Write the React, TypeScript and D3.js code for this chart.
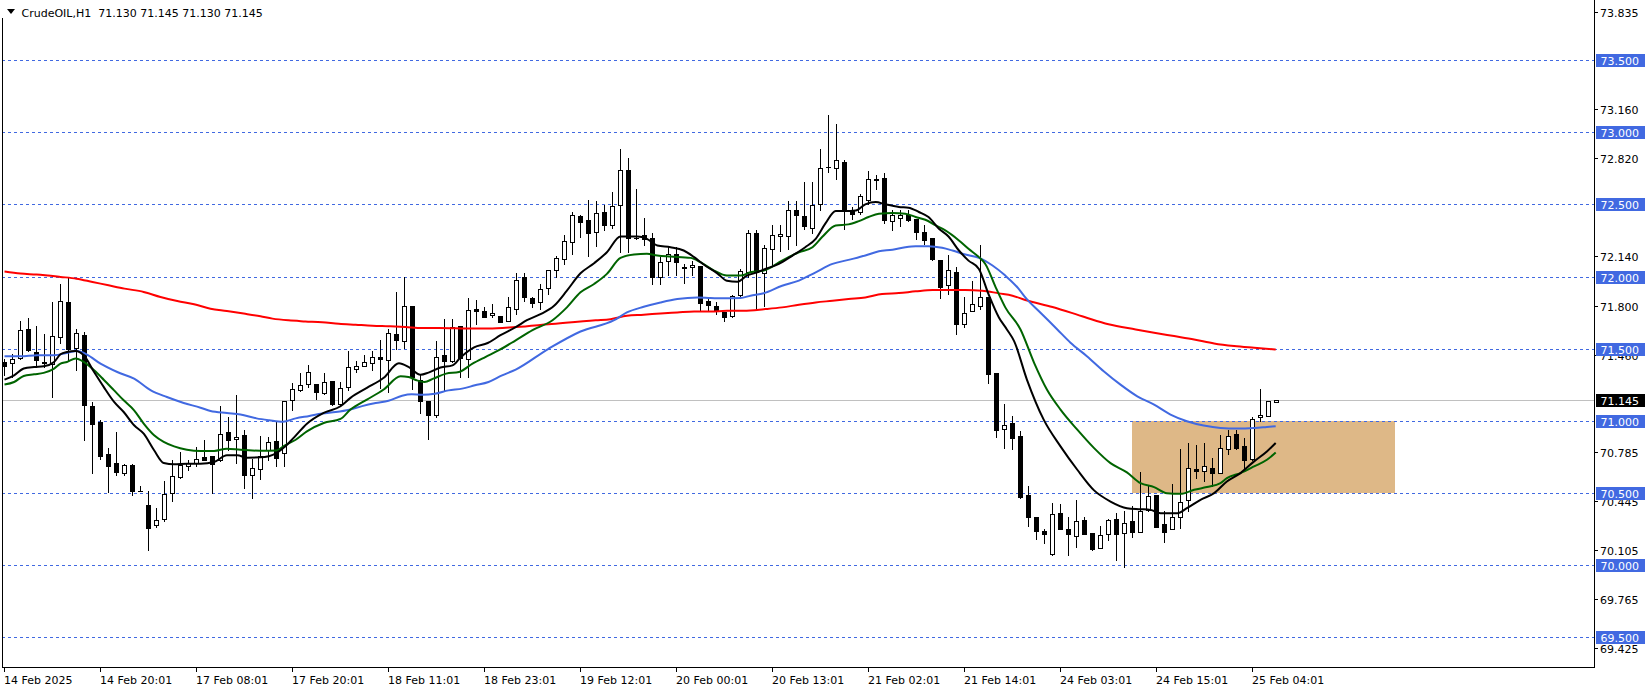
import React from 'react';
import * as d3 from 'd3';

const W = 1651;
const H = 691;

const headerText = 'CrudeOIL,H1  71.130 71.145 71.130 71.145';

const opens = [
  71.41, 71.40, 71.439, 71.64, 71.478, 71.41, 71.397, 71.582, 71.822, 71.506,
  71.598, 71.102, 70.991, 70.774, 70.711, 70.642, 70.697, 70.515, 70.416, 70.28,
  70.323, 70.503, 70.612, 70.69, 70.71, 70.749, 70.76, 70.727, 70.921, 70.878,
  70.905, 70.627, 70.666, 70.796, 70.863, 70.778, 71.148, 71.218, 71.259, 71.259,
  71.195, 71.28, 71.118, 71.236, 71.36, 71.383, 71.402, 71.441, 71.425, 71.605,
  71.554, 71.794, 71.282, 71.136, 71.039, 71.455, 71.416, 71.66, 71.432, 71.778,
  71.762, 71.732, 71.73, 71.693, 71.775, 71.995, 71.852, 71.821, 71.921, 72.046,
  72.123, 72.239, 72.422, 72.394, 72.309, 72.45, 72.36, 72.494, 72.742, 72.27,
  72.285, 72.269, 71.995, 72.111, 72.158, 72.07, 72.065, 72.077, 71.833, 71.798,
  71.752, 71.729, 71.875, 72.03, 72.302, 72.023, 72.193, 72.283, 72.281, 72.459,
  72.418, 72.339, 72.501, 72.76, 72.756, 72.793, 72.459, 72.448, 72.529, 72.673,
  72.68, 72.383, 72.408, 72.425, 72.401, 72.309, 72.267, 72.118, 71.942, 72.035,
  71.67, 71.759, 71.794, 71.856, 71.333, 70.944, 70.986, 70.898, 70.488, 70.333,
  70.238, 70.076, 70.361, 70.25, 70.204, 70.313, 70.222, 70.118, 70.215, 70.32,
  70.222, 70.306, 70.234, 70.384, 70.488, 70.285, 70.25, 70.333, 70.449, 70.667,
  70.65, 70.674, 70.639, 70.806, 70.912, 70.824, 70.736, 71.028, 71.037, 71.13,
];
const highs = [
  71.43, 71.467, 71.69, 71.716, 71.656, 71.60, 71.822, 71.947, 71.993, 71.64,
  71.617, 71.132, 71.005, 70.813, 70.921, 70.70, 70.70, 70.55, 70.512, 70.40,
  70.582, 70.727, 70.785, 70.727, 70.82, 70.866, 70.76, 71.102, 71.028, 71.178,
  70.94, 70.737, 70.893, 70.889, 71.0, 71.141, 71.264, 71.334, 71.39, 71.259,
  71.334, 71.28, 71.27, 71.485, 71.413, 71.457, 71.485, 71.563, 71.635, 71.891,
  72.0, 71.80, 71.328, 71.136, 71.554, 71.707, 71.707, 71.66, 71.855, 71.84,
  71.79, 71.813, 71.73, 71.86, 72.023, 72.023, 71.856, 71.949, 72.046, 72.146,
  72.285, 72.448, 72.43, 72.534, 72.522, 72.494, 72.585, 72.884, 72.819, 72.606,
  72.408, 72.304, 72.139, 72.204, 72.204, 72.088, 72.111, 72.077, 71.856, 71.821,
  71.752, 71.875, 72.053, 72.32, 72.32, 72.216, 72.355, 72.355, 72.522, 72.522,
  72.654, 72.654, 72.884, 73.121, 73.058, 72.807, 72.483, 72.575, 72.731, 72.703,
  72.719, 72.459, 72.459, 72.459, 72.401, 72.355, 72.267, 72.118, 72.151, 72.065,
  71.861, 71.972, 72.216, 71.856, 71.333, 71.12, 71.032, 70.928, 70.546, 70.333,
  70.25, 70.435, 70.426, 70.333, 70.454, 70.338, 70.222, 70.269, 70.32, 70.361,
  70.377, 70.414, 70.646, 70.546, 70.488, 70.373, 70.563, 70.808, 70.847, 70.836,
  70.847, 70.743, 70.90, 70.94, 70.94, 70.882, 71.028, 71.222, 71.141, 71.145,
];
const lows = [
  71.32, 71.305, 71.432, 71.485, 71.374, 71.374, 71.166, 71.54, 71.42, 71.351,
  70.871, 70.642, 70.739, 70.508, 70.628, 70.624, 70.485, 70.512, 70.109, 70.266,
  70.307, 70.446, 70.607, 70.66, 70.69, 70.727, 70.501, 70.722, 70.801, 70.709,
  70.536, 70.469, 70.597, 70.731, 70.685, 70.69, 71.079, 71.206, 71.236, 71.153,
  71.19, 71.11, 71.108, 71.212, 71.34, 71.381, 71.351, 71.23, 71.2, 71.501,
  71.506, 71.224, 71.055, 70.878, 71.028, 71.212, 71.41, 71.305, 71.305, 71.674,
  71.72, 71.72, 71.686, 71.69, 71.74, 71.833, 71.787, 71.775, 71.88, 71.995,
  72.088, 72.158, 72.278, 72.146, 72.209, 72.32, 72.339, 72.169, 72.169, 72.258,
  72.216, 71.949, 71.949, 72.014, 72.014, 71.954, 72.014, 71.763, 71.763, 71.74,
  71.694, 71.717, 71.868, 71.995, 71.775, 71.798, 72.077, 72.176, 72.193, 72.216,
  72.332, 72.302, 72.464, 72.726, 72.677, 72.332, 72.401, 72.436, 72.506, 72.61,
  72.371, 72.32, 72.348, 72.385, 72.262, 72.223, 72.118, 71.852, 71.879, 71.606,
  71.654, 71.759, 71.775, 71.264, 70.889, 70.81, 70.806, 70.465, 70.269, 70.181,
  70.157, 70.069, 70.25, 70.069, 70.125, 70.215, 70.106, 70.118, 70.176, 70.037,
  69.991, 70.194, 70.234, 70.373, 70.264, 70.164, 70.25, 70.257, 70.373, 70.604,
  70.581, 70.546, 70.639, 70.773, 70.808, 70.674, 70.727, 70.998, 71.037, 71.13,
];
const closes = [
  71.38, 71.432, 71.628, 71.494, 71.42, 71.40, 71.591, 71.829, 71.499, 71.612,
  71.113, 70.982, 70.758, 70.688, 70.647, 70.697, 70.515, 70.513, 70.261, 70.316,
  70.492, 70.619, 70.697, 70.71, 70.739, 70.73, 70.704, 70.912, 70.871, 70.89,
  70.627, 70.673, 70.754, 70.852, 70.743, 71.138, 71.222, 71.252, 71.338, 71.2,
  71.269, 71.12, 71.229, 71.375, 71.383, 71.411, 71.441, 71.432, 71.612, 71.563,
  71.799, 71.305, 71.136, 71.039, 71.443, 71.416, 71.651, 71.439, 71.771, 71.764,
  71.72, 71.748, 71.686, 71.79, 71.977, 71.856, 71.814, 71.914, 72.046, 72.13,
  72.246, 72.429, 72.378, 72.302, 72.441, 72.36, 72.487, 72.738, 72.269, 72.265,
  72.258, 72.0, 72.1, 72.158, 72.1, 72.06, 72.083, 71.814, 71.805, 71.763,
  71.717, 71.868, 72.042, 72.302, 72.03, 72.197, 72.285, 72.297, 72.464, 72.425,
  72.348, 72.499, 72.756, 72.763, 72.807, 72.459, 72.436, 72.559, 72.673, 72.668,
  72.394, 72.425, 72.425, 72.39, 72.309, 72.251, 72.123, 71.926, 72.046, 71.675,
  71.747, 71.81, 71.856, 71.322, 70.94, 70.97, 70.882, 70.47, 70.338, 70.241,
  70.215, 70.354, 70.25, 70.215, 70.306, 70.215, 70.113, 70.208, 70.313, 70.215,
  70.292, 70.234, 70.377, 70.481, 70.268, 70.234, 70.338, 70.442, 70.674, 70.65,
  70.69, 70.639, 70.813, 70.894, 70.813, 70.727, 71.014, 71.044, 71.141, 71.145,
];

// moving averages: [bar index, price]
const maRed: [number, number][] = [
  [0, 72.035], [2, 72.021], [4, 72.014], [7, 71.998], [9, 71.986], [11, 71.963], [13, 71.94], [15, 71.917],
  [17.4, 71.894], [19.5, 71.859], [21.6, 71.831], [23.7, 71.808], [25.75, 71.778], [27.8, 71.762], [29.9, 71.744],
  [32, 71.725], [33.5, 71.709], [35.5, 71.697], [37.6, 71.69], [39.7, 71.684], [41.8, 71.674], [43.9, 71.667],
  [46, 71.66], [48, 71.656], [50.1, 71.651], [52.2, 71.644], [54.3, 71.644], [56.4, 71.642], [58.5, 71.64],
  [60.5, 71.64], [63.9, 71.651], [68, 71.67], [73.9, 71.698], [75.75, 71.705], [77.8, 71.729], [79.9, 71.736],
  [82, 71.745], [84.1, 71.752], [86.2, 71.759], [88.25, 71.759], [90.3, 71.763], [92.4, 71.763], [95.1, 71.775],
  [97.2, 71.787], [99.3, 71.805], [101.4, 71.821], [103.5, 71.833], [105.5, 71.845], [107.6, 71.856],
  [109.7, 71.879], [111.8, 71.886], [113.9, 71.898], [116, 71.907], [118, 71.907], [120.1, 71.907],
  [122.2, 71.903], [124.3, 71.884], [126, 71.868], [127.6, 71.838], [131, 71.79], [135, 71.72], [138, 71.67],
  [141.4, 71.634], [143.7, 71.611], [146.2, 71.588], [148.7, 71.565], [151.2, 71.537], [153.7, 71.519],
  [156.2, 71.507], [158.9, 71.495],
];
const maBlue: [number, number][] = [
  [0, 71.448], [2, 71.448], [4.1, 71.455], [6.2, 71.455], [7.8, 71.471], [9.1, 71.485], [10.3, 71.46],
  [12, 71.397], [14.1, 71.339], [16.2, 71.293], [18.3, 71.212], [20.3, 71.166], [22.4, 71.125], [24.5, 71.092],
  [25.75, 71.069], [27.8, 71.055], [29.5, 71.045], [31.5, 71.018], [33.1, 71.005], [34.8, 70.995],
  [36.4, 71.018], [38.1, 71.035], [39.7, 71.052], [41.4, 71.062], [43.1, 71.078], [44.7, 71.103],
  [46.4, 71.124], [48, 71.14], [49.7, 71.175], [50.9, 71.185], [52.2, 71.182], [53.8, 71.189], [55.5, 71.212],
  [57.2, 71.224], [58.8, 71.247], [60.5, 71.27], [62.2, 71.316], [63.9, 71.356], [68, 71.5], [72, 71.62],
  [76.2, 71.698], [77.8, 71.752], [79.9, 71.791], [82, 71.821], [84.1, 71.845], [86.6, 71.856], [88.25, 71.852],
  [89.9, 71.85], [92, 71.852], [93.25, 71.868], [94.9, 71.885], [97.2, 71.937], [99.3, 71.972], [101.4, 72.03],
  [103.5, 72.088], [105.5, 72.116], [107.6, 72.146], [109.3, 72.176], [111, 72.186], [112.6, 72.204],
  [113.9, 72.211], [115.5, 72.211], [117.2, 72.2], [118.5, 72.181], [120.1, 72.153], [121.8, 72.13],
  [123.5, 72.077], [125.1, 72.007], [126.8, 71.914], [127.6, 71.856], [129.5, 71.75], [131.6, 71.634],
  [133.25, 71.542], [135.3, 71.449], [137.4, 71.345], [139.5, 71.252], [141.6, 71.171], [143.7, 71.113],
  [145.75, 71.044], [147.8, 70.998], [149.9, 70.968], [152, 70.951], [154.1, 70.947], [156.2, 70.951],
  [157.8, 70.958], [158.9, 70.963],
];
const maGreen: [number, number][] = [
  [0, 71.252], [1.2, 71.27], [2.4, 71.312], [3.7, 71.323], [4.9, 71.333], [6.2, 71.363], [7, 71.397],
  [7.8, 71.409], [8.9, 71.432], [9.9, 71.409], [11.2, 71.351], [12.4, 71.286], [13.7, 71.212], [14.9, 71.143],
  [16.2, 71.074], [17.4, 70.982], [18.7, 70.901], [19.9, 70.855], [21.2, 70.824], [22.8, 70.801],
  [24.5, 70.792], [26.2, 70.792], [27.8, 70.808], [29.5, 70.8], [32, 70.794], [34, 70.796], [35, 70.829],
  [36.4, 70.87], [37.8, 70.928], [39.9, 70.986], [42, 71.014], [43.25, 71.079], [45.3, 71.148], [47.4, 71.218],
  [49.5, 71.31], [50.5, 71.305], [51.5, 71.282], [52.5, 71.27], [53.6, 71.293], [55.2, 71.328], [56.8, 71.339],
  [58.5, 71.397], [60.1, 71.443], [61.8, 71.49], [63.9, 71.559], [66, 71.63], [68.5, 71.698], [70.3, 71.787],
  [72, 71.891], [73.7, 71.949], [75.3, 72.019], [77, 72.13], [78.7, 72.153], [80.3, 72.158], [81.6, 72.146],
  [83.25, 72.139], [85.75, 72.13], [87, 72.1], [88.7, 72.042], [90.3, 72.007], [92, 72.007], [93.25, 72.03],
  [94.9, 72.042], [97.2, 72.111], [99.3, 72.169], [101, 72.204], [102.2, 72.274], [103.9, 72.355],
  [105.5, 72.362], [106.8, 72.385], [108, 72.413], [109.3, 72.436], [111, 72.441], [112.6, 72.436],
  [113.9, 72.413], [115.1, 72.394], [116.4, 72.355], [117.6, 72.32], [119.3, 72.251], [120.5, 72.193],
  [121.8, 72.135], [122.6, 72.088], [123.9, 71.926], [125.1, 71.787], [127, 71.634], [128.7, 71.403],
  [130.3, 71.218], [132, 71.079], [134.1, 70.94], [136.2, 70.812], [138.25, 70.708], [140.3, 70.644],
  [142, 70.569], [143.7, 70.542], [145.3, 70.5], [147, 70.495], [148.7, 70.523], [150.3, 70.542],
  [152, 70.569], [152.8, 70.604], [154.5, 70.639], [156.2, 70.685], [157.8, 70.731], [158.9, 70.782],
];
const maBlack: [number, number][] = [
  [0, 71.286], [1.2, 71.316], [2.4, 71.363], [3.7, 71.374], [4.9, 71.379], [6.2, 71.409], [7, 71.462],
  [7.8, 71.478], [8.9, 71.485], [9.9, 71.455], [11.2, 71.339], [12.4, 71.236], [13.7, 71.132], [14.9, 71.062],
  [16.2, 70.97], [17.4, 70.912], [18.7, 70.797], [19.9, 70.709], [21.2, 70.7], [22.8, 70.704], [24.5, 70.704],
  [26.2, 70.716], [27.8, 70.762], [29.1, 70.762], [30.3, 70.746], [32, 70.748], [34, 70.778], [35, 70.819],
  [36.2, 70.886], [37.8, 70.981], [39.9, 71.056], [42, 71.102], [43.25, 71.16], [45.3, 71.229], [47.4, 71.299],
  [49.3, 71.4], [50.5, 71.375], [52, 71.32], [53, 71.335], [54.5, 71.37], [56, 71.385], [57, 71.44],
  [58.7, 71.51], [60.4, 71.54], [62, 71.594], [63.9, 71.65], [65.3, 71.698], [67, 71.74], [68.7, 71.798],
  [70.3, 71.903], [72, 72.023], [73.7, 72.093], [75.3, 72.169], [77, 72.278], [79.1, 72.278], [80.3, 72.262],
  [81.6, 72.216], [83.25, 72.204], [84.9, 72.181], [86.2, 72.135], [87.4, 72.084], [89.1, 72.023],
  [90.3, 71.972], [91.6, 71.965], [92.8, 72.007], [94.1, 72.03], [95.1, 72.053], [96.8, 72.088],
  [98.5, 72.146], [100.1, 72.204], [101.4, 72.262], [102.6, 72.367], [103.9, 72.455], [105.1, 72.455],
  [106.4, 72.459], [107.6, 72.501], [108.9, 72.517], [110.1, 72.501], [111.8, 72.483], [113, 72.478],
  [114.3, 72.448], [115.5, 72.413], [116.8, 72.332], [118, 72.278], [119.3, 72.181], [120.5, 72.111],
  [121.8, 72.053], [123, 71.879], [124.3, 71.717], [125.3, 71.634], [126.2, 71.553], [127.8, 71.287],
  [129.9, 71.009], [132, 70.824], [134.1, 70.662], [136.2, 70.519], [138.25, 70.442], [140.3, 70.396],
  [142, 70.389], [143.25, 70.384], [144.5, 70.361], [146.6, 70.361], [147.8, 70.396], [149.5, 70.454],
  [151.2, 70.5], [152.8, 70.581], [154.5, 70.639], [156.2, 70.72], [157.8, 70.789], [158.9, 70.847],
];

const timeLabels = [
  '14 Feb 2025', '14 Feb 20:01', '17 Feb 08:01', '17 Feb 20:01', '18 Feb 11:01', '18 Feb 23:01',
  '19 Feb 12:01', '20 Feb 00:01', '20 Feb 13:01', '21 Feb 02:01', '21 Feb 14:01', '24 Feb 03:01',
  '24 Feb 15:01', '25 Feb 04:01',
];
const timeLabelBars = [0, 12, 24, 36, 48, 60, 72, 84, 96, 108, 120, 132, 144, 156];

const priceTicks = [73.835, 73.16, 72.82, 72.14, 71.8, 71.46, 70.785, 70.445, 70.105, 69.765, 69.425];
const priceTickLabels = ['73.835', '73.160', '72.820', '72.140', '71.800', '71.460', '70.785', '70.445', '70.105', '69.765', '69.425'];
const levels = [73.5, 73.0, 72.5, 72.0, 71.5, 71.0, 70.5, 70.0, 69.5];
const levelLabels = ['73.500', '73.000', '72.500', '72.000', '71.500', '71.000', '70.500', '70.000', '69.500'];
const lastPrice = 71.145;
const lastPriceLabel = '71.145';

const zoneBars = [140.9, 173.75];
const zonePrices = [71.0, 70.5];

const FONT = 'DejaVu Sans';
const PLOT_L = 2;
const PLOT_R = 1594;
const PLOT_B = 667;

export default function App() {
  const x = d3.scaleLinear().domain([0, 1]).range([4.5, 12.5]);
  const y = d3.scaleLinear().domain([70, 73]).range([565.3, 132.3]);
  const py = (p: number) => Math.round(y(p)) + 0.5;

  const line = d3
    .line<[number, number]>()
    .x((d) => x(d[0]))
    .y((d) => y(d[1]))
    .curve(d3.curveMonotoneX);

  const candles = opens.map((o, i) => {
    const c = closes[i];
    const h = highs[i];
    const l = lows[i];
    const cx = x(i);
    const bull = c >= o;
    const top = Math.round(y(Math.max(o, c)));
    const bot = Math.round(y(Math.min(o, c)));
    const wt = Math.round(y(h));
    const wb = Math.round(y(l));
    return (
      <g key={i}>
        <line x1={cx} x2={cx} y1={wt} y2={wb + 1} stroke="#000" strokeWidth={1} />
        {bot - top >= 1 ? (
          <rect x={cx - 2} y={top + 0.5} width={4} height={bot - top} fill={bull ? '#fff' : '#000'} stroke="#000" strokeWidth={1} />
        ) : (
          <line x1={cx - 2.5} x2={cx + 2.5} y1={top + 0.5} y2={top + 0.5} stroke="#000" strokeWidth={1} />
        )}
      </g>
    );
  });

  return (
    <svg width={W} height={H} style={{ position: 'absolute', left: 0, top: 0, background: '#fff' }} shapeRendering="crispEdges">
      <rect x={0} y={0} width={W} height={H} fill="#fff" />
      {/* zone */}
      <rect
        x={Math.round(x(zoneBars[0]))}
        y={Math.round(y(zonePrices[0]))}
        width={Math.round(x(zoneBars[1])) - Math.round(x(zoneBars[0]))}
        height={Math.round(y(zonePrices[1])) - Math.round(y(zonePrices[0]))}
        fill="#DEB887"
      />
      {/* level lines */}
      {levels.map((lv, i) => (
        <line key={i} x1={PLOT_L} x2={PLOT_R} y1={py(lv)} y2={py(lv)} stroke="#4169E1" strokeWidth={1} strokeDasharray="3,3" />
      ))}
      <line x1={PLOT_L} x2={PLOT_R} y1={py(lastPrice)} y2={py(lastPrice)} stroke="#C0C0C0" strokeWidth={1} />
      {candles}
      <g fill="none" strokeWidth={2} shapeRendering="auto" strokeLinejoin="round">
        <path d={line(maRed) || ''} stroke="#FF0000" />
        <path d={line(maBlue) || ''} stroke="#4169E1" />
        <path d={line(maGreen) || ''} stroke="#006400" />
        <path d={line(maBlack) || ''} stroke="#000000" />
      </g>
      {/* frame */}
      <line x1={PLOT_L + 0.5} x2={PLOT_L + 0.5} y1={18} y2={PLOT_B + 1} stroke="#000" />
      <line x1={PLOT_R + 0.5} x2={PLOT_R + 0.5} y1={0} y2={PLOT_B + 1} stroke="#000" />
      <line x1={PLOT_L} x2={PLOT_R + 1} y1={PLOT_B + 0.5} y2={PLOT_B + 0.5} stroke="#000" />
      {/* price axis */}
      {priceTicks.map((p, i) => (
        <g key={i}>
          <line x1={PLOT_R} x2={PLOT_R + 4} y1={py(p)} y2={py(p)} stroke="#000" />
          <text x={1600} y={py(p) + 4} fontFamily={FONT} fontSize={11} fill="#000">
            {priceTickLabels[i]}
          </text>
        </g>
      ))}
      {levels.map((lv, i) => (
        <g key={i}>
          <rect x={1596} y={Math.round(y(lv)) - 6} width={49} height={13} fill="#4169E1" />
          <text x={1600.5} y={Math.round(y(lv)) + 4.5} fontFamily={FONT} fontSize={11} fill="#fff">
            {levelLabels[i]}
          </text>
        </g>
      ))}
      <rect x={1596} y={Math.round(y(lastPrice)) - 6} width={49} height={13} fill="#000" />
      <text x={1600.5} y={Math.round(y(lastPrice)) + 4.5} fontFamily={FONT} fontSize={11} fill="#fff">
        {lastPriceLabel}
      </text>
      {/* time axis */}
      {timeLabelBars.map((b, i) => (
        <g key={i}>
          <line x1={x(b)} x2={x(b)} y1={PLOT_B} y2={PLOT_B + 5} stroke="#000" />
          <text x={x(b) - 0.5} y={684} fontFamily={FONT} fontSize={11} fill="#000">
            {timeLabels[i]}
          </text>
        </g>
      ))}
      {/* header */}
      <path d="M7,9 L15,9 L11,14 Z" fill="#000" shapeRendering="auto" />
      <text x={21.5} y={16.5} fontFamily={FONT} fontSize={11} fill="#000" xmlSpace="preserve" style={{ whiteSpace: 'pre' }}>
        {headerText}
      </text>
    </svg>
  );
}
